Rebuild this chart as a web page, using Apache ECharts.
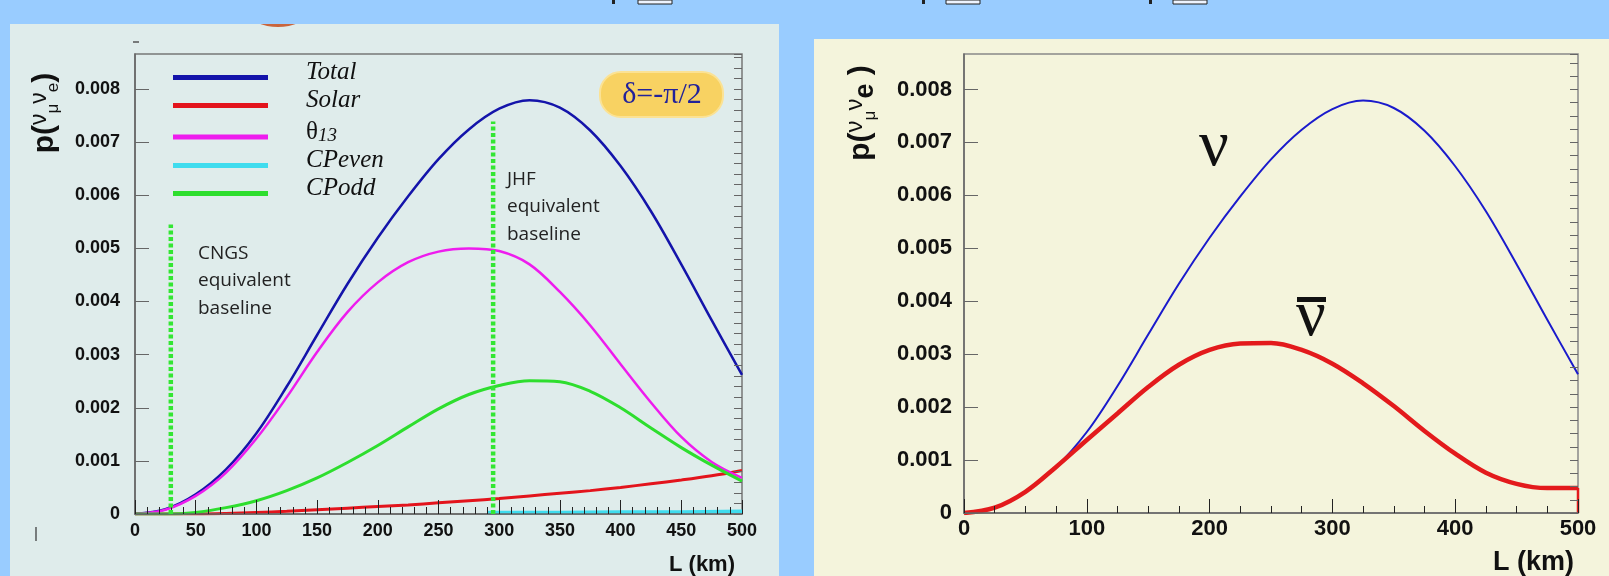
<!DOCTYPE html>
<html>
<head>
<meta charset="utf-8">
<script src="https://cdn.jsdelivr.net/npm/echarts@6/dist/echarts.min.js"></script>
<style>
html, body { margin: 0; padding: 0; background: #99ccff; }
#chart { width: 1609px; height: 576px; }
</style>
</head>
<body>
<div id="chart"></div>
<script>
// baseline L (km), shared by the sampled curves
const distKm = [0, 25, 50, 75, 100, 125, 150, 175, 200, 225, 250, 275, 300, 325, 350, 375, 400, 425, 450, 475, 500];

// left panel: delta = -pi/2 and its pieces
const totalProb = [0, 0.00009, 0.00037, 0.00084, 0.00152, 0.0024, 0.00337, 0.00433, 0.0052, 0.00598, 0.00668, 0.00724, 0.00763, 0.00779, 0.00765, 0.00722, 0.00655, 0.0057, 0.0047, 0.00365, 0.00262];
const solarProb = [0, 0, 0, 0.00001, 0.00003, 0.00005, 0.00008, 0.00011, 0.00014, 0.00017, 0.00021, 0.00025, 0.00029, 0.00034, 0.00039, 0.00044, 0.0005, 0.00057, 0.00064, 0.00072, 0.00082];
const theta13Prob = [0, 0.00008, 0.00034, 0.00078, 0.00142, 0.0022, 0.00305, 0.0038, 0.00436, 0.00474, 0.00494, 0.005, 0.00495, 0.0047, 0.00418, 0.00355, 0.00282, 0.0021, 0.00145, 0.00098, 0.00068];
const cpOddProb = [0, 0, 0.00003, 0.00012, 0.00025, 0.00044, 0.00068, 0.00097, 0.00129, 0.00164, 0.00198, 0.00225, 0.00242, 0.00251, 0.00249, 0.00231, 0.002, 0.00162, 0.00125, 0.00092, 0.00062];
const cpEvenKm = [290, 350, 400, 450, 500];
const cpEvenProb = [0.00003, 0.00003, 0.00004, 0.00004, 0.00005];

// equivalent baselines (dotted markers)
const baselineKm = [29.5, 295];
const baselineTop = [0.00545, 0.00739];

// right panel: neutrino vs antineutrino
const nuProb = [0, 0.0001, 0.0004, 0.00087, 0.00153, 0.0024, 0.00337, 0.00433, 0.0052, 0.00598, 0.00668, 0.00724, 0.00763, 0.00779, 0.00765, 0.00722, 0.00655, 0.0057, 0.0047, 0.00365, 0.00262];
const nubarProb = [0, 0.0001, 0.0004, 0.00087, 0.00138, 0.00188, 0.00238, 0.0028, 0.00308, 0.0032, 0.00321, 0.00308, 0.00282, 0.00245, 0.00202, 0.00155, 0.00112, 0.00076, 0.00055, 0.00047, 0.00047];

const sans = '"Liberation Sans", Arial, sans-serif';
const serif = '"Liberation Serif", "Times New Roman", serif';

const pairs = (xs, ys) => xs.map((x, i) => [x, ys[i]]);

function probLabel(v) {
	const m = Math.round(v * 1e4);
	if (m === 0) return '0';
	if (m % 10 !== 0) return '';
	return (m / 1e4).toFixed(3);
}

function curve(name, xi, yi, data, color, width, z) {
	return {
		name: name, type: 'line', xAxisIndex: xi, yAxisIndex: yi, data: data,
		showSymbol: false, smooth: 0.35, z: z,
		lineStyle: { color: color, width: width }, itemStyle: { color: color }
	};
}

function baseline(i) {
	return {
		name: 'baseline' + i, type: 'line', xAxisIndex: 0, yAxisIndex: 0,
		data: [[baselineKm[i], 0], [baselineKm[i], baselineTop[i]]],
		showSymbol: false, z: 6,
		lineStyle: { color: '#33e633', width: 4.5, type: [4, 2.5] }
	};
}

function xAxisOf(grid, step, minorSplit, fontSize, margin) {
	return {
		gridIndex: grid, type: 'value', min: 0, max: 500, interval: step, z: 5,
		axisLine: { lineStyle: { color: '#666', width: 1.5 } },
		axisTick: { inside: true, length: 14, lineStyle: { color: '#222' } },
		minorTick: { show: true, splitNumber: minorSplit, length: 7, lineStyle: { color: '#222' } },
		splitLine: { show: false },
		axisLabel: { margin: margin, fontSize: fontSize, fontWeight: 'bold', color: '#111', fontFamily: sans }
	};
}

function yMajor(grid, max, fontSize, margin) {
	return {
		gridIndex: grid, type: 'value', min: 0, max: max, interval: 0.001, z: 5,
		axisLine: { show: true, lineStyle: { color: '#666', width: 1.5 } },
		axisTick: { inside: true, length: 14, lineStyle: { color: '#666' } },
		splitLine: { show: false },
		axisLabel: { formatter: probLabel, showMaxLabel: false, margin: margin, fontSize: fontSize, fontWeight: 'bold', color: '#111', fontFamily: sans }
	};
}

function yMinor(grid, max, step) {
	return {
		gridIndex: grid, type: 'value', min: 0, max: max, interval: step, z: 5,
		axisLine: { show: false },
		axisTick: { inside: true, length: 8, lineStyle: { color: '#666' } },
		axisLabel: { show: false },
		splitLine: { show: false }
	};
}

function label(x, y, text, size, extra) {
	return {
		type: 'text', x: x, y: y, z: 20,
		style: Object.assign({ text: text, fontSize: size, fontFamily: sans, fill: '#111', align: 'left', verticalAlign: 'middle' }, extra || {})
	};
}

const chart = echarts.init(document.getElementById('chart'));

chart.setOption({
	animation: false,
	backgroundColor: '#99ccff',
	grid: [
		{ left: 135, top: 54, width: 607, height: 460, show: true, borderColor: '#777', borderWidth: 1.5, backgroundColor: 'transparent' },
		{ left: 964, top: 54, width: 614, height: 459, show: true, borderColor: '#888', borderWidth: 1.5, backgroundColor: 'transparent' }
	],
	xAxis: [
		xAxisOf(0, 50, 5, 18, 8),
		xAxisOf(1, 100, 4, 22, 5)
	],
	yAxis: [
		yMajor(0, 0.00866, 18, 15),
		yMinor(0, 0.00866, 0.0002),
		yMajor(1, 0.00867, 22, 12),
		yMinor(1, 0.00867, 0.00025)
	],
	legend: {
		data: ['Total', 'Solar', 'θ13', 'CPeven', 'CPodd'],
		orient: 'vertical', left: 173, top: 60, padding: 0, itemGap: 3,
		itemWidth: 95, itemHeight: 5, icon: 'rect', selectedMode: false,
		formatter: n => n === 'θ13' ? '{th|θ}{sub|13}' : '{it|' + n + '}',
		textStyle: {
			color: '#111', padding: [0, 0, 10, 33],
			rich: {
				it: { fontFamily: serif, fontStyle: 'italic', fontSize: 25, lineHeight: 26, color: '#111' },
				th: { fontFamily: serif, fontSize: 25, lineHeight: 26, color: '#111' },
				sub: { fontFamily: serif, fontStyle: 'italic', fontSize: 19, lineHeight: 26, verticalAlign: 'bottom', padding: [10, 0, 0, 0], color: '#111' }
			}
		}
	},
	series: [
		curve('Total', 0, 0, pairs(distKm, totalProb), '#1414aa', 2.5, 3),
		curve('Solar', 0, 0, pairs(distKm, solarProb), '#e3141c', 3, 3),
		curve('θ13', 0, 0, pairs(distKm, theta13Prob), '#ee1cee', 2.5, 3),
		curve('CPeven', 0, 0, pairs(cpEvenKm, cpEvenProb), '#3fdcee', 3.5, 3),
		curve('CPodd', 0, 0, pairs(distKm, cpOddProb), '#2ede2e', 3, 4),
		baseline(0),
		baseline(1),
		curve('nu', 1, 2, pairs(distKm, nuProb), '#1a1acc', 2, 3),
		curve('nubar', 1, 2, pairs(distKm, nubarProb), '#e31a1c', 4.5, 4),
		{
			name: 'nubar edge', type: 'line', xAxisIndex: 1, yAxisIndex: 2, showSymbol: false, z: 4,
			data: [[distKm[distKm.length - 1], nubarProb[nubarProb.length - 1]], [distKm[distKm.length - 1], 0]],
			lineStyle: { color: '#e31a1c', width: 2.5 }
		}
	],
	graphic: [
		// panels
		{ type: 'rect', z: -10, shape: { x: 10, y: 24, width: 769, height: 552 }, style: { fill: '#dfeceb' } },
		{ type: 'rect', z: -10, shape: { x: 814, y: 39, width: 795, height: 537 }, style: { fill: '#f4f4dc' } },
		{ type: 'circle', z: -9, shape: { cx: 278, cy: -28.5, r: 55.5 }, style: { fill: '#c9653d' } },
		{ type: 'rect', z: -8, shape: { x: 215, y: 0, width: 130, height: 24 }, style: { fill: '#99ccff' } },
		// cut-off glyphs at the top edge
		{ type: 'rect', z: -7, shape: { x: 612, y: 0, width: 3, height: 4 }, style: { fill: '#222' } },
		{ type: 'rect', z: -7, shape: { x: 638, y: 0, width: 34, height: 4 }, style: { fill: '#eef4ff', stroke: '#222', lineWidth: 1 } },
		{ type: 'rect', z: -7, shape: { x: 922, y: 0, width: 3, height: 4 }, style: { fill: '#222' } },
		{ type: 'rect', z: -7, shape: { x: 946, y: 0, width: 34, height: 4 }, style: { fill: '#eef4ff', stroke: '#222', lineWidth: 1 } },
		{ type: 'rect', z: -7, shape: { x: 1149, y: 0, width: 3, height: 4 }, style: { fill: '#222' } },
		{ type: 'rect', z: -7, shape: { x: 1173, y: 0, width: 34, height: 4 }, style: { fill: '#eef4ff', stroke: '#222', lineWidth: 1 } },
		{ type: 'line', z: 20, shape: { x1: 133, y1: 42, x2: 139, y2: 42 }, style: { stroke: '#555', lineWidth: 1.5 } },
		{ type: 'line', z: 20, shape: { x1: 36, y1: 527, x2: 36, y2: 541 }, style: { stroke: '#333', lineWidth: 1.2 } },

		// delta badge
		{ type: 'rect', z: 15, shape: { x: 600, y: 72, width: 123, height: 45, r: 21 }, style: { fill: '#f8d262', stroke: '#fbe294', lineWidth: 2 } },
		label(662, 95, 'δ=-π/2', 30, { fontFamily: serif, fill: '#22229a', align: 'center' }),

		// baseline notes
		label(198, 281, 'CNGS\nequivalent\nbaseline', 19, { fontFamily: '"Open Sans", sans-serif', fill: '#222', lineHeight: 27.5 }),
		label(507, 207, 'JHF\nequivalent\nbaseline', 19, { fontFamily: '"Open Sans", sans-serif', fill: '#222', lineHeight: 27.5 }),

		// axis titles
		label(735, 565, 'L (km)', 22, { fontWeight: 'bold', align: 'right' }),
		label(1574, 563, 'L (km)', 27, { fontWeight: 'bold', align: 'right' }),
		{
			type: 'text', x: 45, y: 113, rotation: Math.PI / 2, z: 20,
			style: {
				text: '{p|p(}{n|ν}{s|μ}{n|ν}{s|e}{p|)}', align: 'center', verticalAlign: 'middle', fill: '#111',
				rich: {
					p: { fontSize: 30, fontWeight: 'bold', fontFamily: sans, lineHeight: 34 },
					n: { fontSize: 23, fontFamily: sans, verticalAlign: 'top', lineHeight: 34 },
					s: { fontSize: 17, fontFamily: sans, verticalAlign: 'bottom', lineHeight: 34 }
				}
			}
		},
		{
			type: 'text', x: 861, y: 113, rotation: Math.PI / 2, z: 20,
			style: {
				text: '{p|p(}{n|ν}{s|μ}{n|ν}{e|e}{p| )}', align: 'center', verticalAlign: 'middle', fill: '#111',
				rich: {
					p: { fontSize: 30, fontWeight: 'bold', fontFamily: sans, lineHeight: 36 },
					n: { fontSize: 24, fontFamily: sans, verticalAlign: 'top', lineHeight: 36 },
					s: { fontSize: 17, fontFamily: sans, verticalAlign: 'bottom', lineHeight: 36 },
					e: { fontSize: 27, fontWeight: 'bold', fontFamily: sans, verticalAlign: 'bottom', lineHeight: 36 }
				}
			}
		},

		// curve tags on the right panel
		label(1214, 148, 'ν', 66, { fontFamily: serif, align: 'center' }),
		label(1311, 318, 'ν', 66, { fontFamily: serif, align: 'center' }),
		{ type: 'rect', z: 20, shape: { x: 1297, y: 297, width: 29, height: 5 }, style: { fill: '#111' } }
	]
});
</script>
</body>
</html>
